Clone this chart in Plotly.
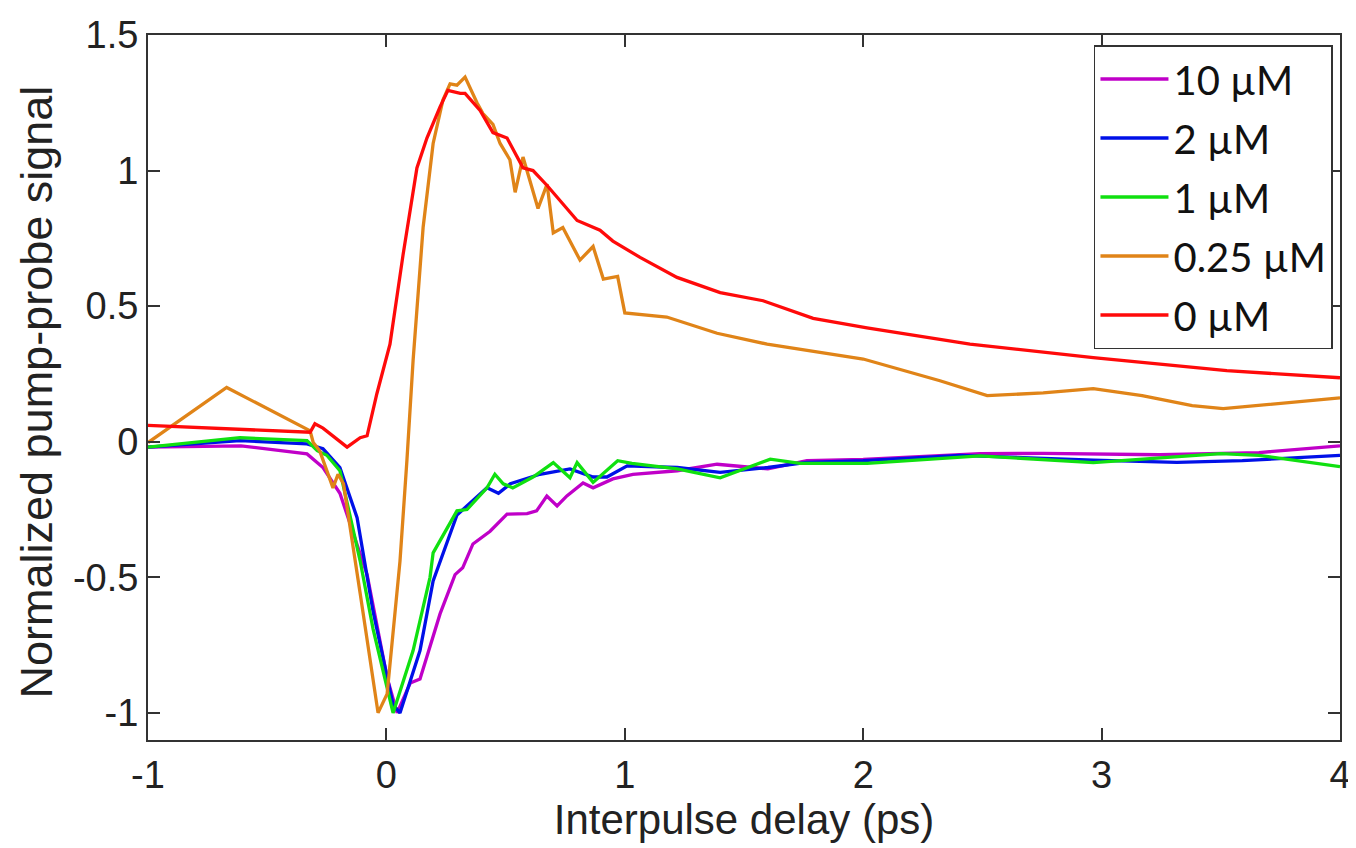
import plotly.graph_objects as go

# ---- data ----
x_10uM = [-1, -0.61, -0.333, -0.266, -0.195, -0.081, 0.003, 0.045, 0.10, 0.141, 0.225, 0.288, 0.32, 0.363,
          0.435, 0.506, 0.59, 0.63, 0.673, 0.716, 0.757, 0.825, 0.867, 0.95, 1.034, 1.22, 1.387, 1.6, 1.764,
          2.0, 2.49, 2.755, 3.245, 3.66, 4.0]
y_10uM = [-0.02, -0.015, -0.045, -0.095, -0.19, -0.49, -0.87, -1.0, -0.89, -0.875, -0.635, -0.49, -0.465, -0.377,
          -0.33, -0.267, -0.265, -0.255, -0.2, -0.237, -0.2, -0.152, -0.17, -0.137, -0.12, -0.107, -0.083, -0.1, -0.07,
          -0.065, -0.044, -0.043, -0.048, -0.04, -0.015]

x_2uM = [-1, -0.614, -0.333, -0.266, -0.195, -0.123, -0.056, 0.028, 0.057, 0.141, 0.196, 0.296, 0.422, 0.47,
         0.52, 0.644, 0.77, 0.867, 0.925, 1.01, 1.22, 1.4, 1.6, 1.764, 2.0, 2.406, 2.965, 3.316, 3.59, 4.0]
y_2uM = [-0.02, 0.004, -0.008, -0.026, -0.095, -0.28, -0.625, -0.97, -1.0, -0.77, -0.513, -0.27, -0.17, -0.19,
         -0.155, -0.12, -0.1, -0.13, -0.13, -0.089, -0.095, -0.113, -0.095, -0.076, -0.07, -0.05, -0.068, -0.076,
         -0.07, -0.05]

x_1uM = [-1, -0.614, -0.333, -0.29, -0.25, -0.195, -0.11, -0.056, 0.028, 0.112, 0.183, 0.196, 0.296, 0.338,
         0.422, 0.455, 0.49, 0.53, 0.615, 0.70, 0.77, 0.80, 0.867, 0.97, 1.03, 1.22, 1.4, 1.61, 1.735, 2.016,
         2.49, 2.965, 3.5, 3.66, 4.0]
y_1uM = [-0.02, 0.015, 0.004, -0.033, -0.05, -0.107, -0.44, -0.69, -1.0, -0.77, -0.5, -0.41, -0.255, -0.25,
         -0.17, -0.12, -0.155, -0.17, -0.13, -0.077, -0.133, -0.077, -0.15, -0.07, -0.08, -0.1, -0.133, -0.064,
         -0.08, -0.08, -0.052, -0.077, -0.044, -0.05, -0.092]

x_025uM = [-1, -0.67, -0.32, -0.307, -0.28, -0.224, -0.203, -0.18, -0.11, -0.035, 0.003, 0.057, 0.086, 0.112,
           0.154, 0.196, 0.237, 0.267, 0.296, 0.33, 0.38, 0.405, 0.447, 0.477, 0.518, 0.54, 0.573, 0.59, 0.636,
           0.674, 0.70, 0.74, 0.812, 0.867, 0.91, 0.97, 1.0, 1.176, 1.387, 1.597, 1.806, 2.0, 2.322, 2.52, 2.755,
           2.965, 3.17, 3.38, 3.51, 3.735, 4.0]
y_025uM = [-0.003, 0.2, 0.04, -0.003, -0.033, -0.17, -0.12, -0.155, -0.56, -1.0, -0.93, -0.44, -0.07, 0.3,
           0.79, 1.1, 1.26, 1.32, 1.315, 1.345, 1.25, 1.21, 1.17, 1.1, 1.04, 0.92, 1.05, 1.0, 0.86,
           0.95, 0.77, 0.79, 0.67, 0.72, 0.6, 0.61, 0.475, 0.46, 0.40, 0.36, 0.33, 0.305, 0.225, 0.17, 0.18,
           0.196, 0.17, 0.133, 0.122, 0.14, 0.162]

x_0uM = [-1, -0.5, -0.32, -0.3, -0.266, -0.165, -0.11, -0.081, -0.04, 0.015, 0.07, 0.128, 0.17, 0.225, 0.258,
         0.31, 0.33, 0.393, 0.447, 0.506, 0.573, 0.615, 0.674, 0.8, 0.896, 0.95, 1.064, 1.219, 1.40, 1.58, 1.79,
         2.016, 2.226, 2.448, 2.965, 3.525, 4.0]
y_0uM = [0.06, 0.04, 0.035, 0.066, 0.05, -0.02, 0.015, 0.022, 0.177, 0.36, 0.69, 1.01, 1.12, 1.235, 1.296,
         1.285, 1.285, 1.222, 1.14, 1.12, 1.01, 1.0, 0.945, 0.816, 0.78, 0.74, 0.68, 0.606, 0.55, 0.52, 0.455,
         0.42, 0.39, 0.36, 0.31, 0.262, 0.236]

series_names = ["10 µM", "2 µM", "1 µM", "0.25 µM", "0 µM"]
series_x = [x_10uM, x_2uM, x_1uM, x_025uM, x_0uM]
series_y = [y_10uM, y_2uM, y_1uM, y_025uM, y_0uM]
series_colors = ["#C000C8", "#0010E8", "#10E010", "#E08418", "#FF0A0A"]

x_ticks = [-1, 0, 1, 2, 3, 4]
y_ticks = [-1, -0.5, 0, 0.5, 1, 1.5]
y_ticklabels = ["-1", "-0.5", "0", "0.5", "1", "1.5"]

fig = go.Figure()
for i, (name, xs, ys, c) in enumerate(zip(series_names, series_x, series_y, series_colors)):
    fig.add_trace(go.Scatter(x=xs, y=ys, mode="lines", name=name,
                             line=dict(color=c, width=3.3), legendgroup=f"g{i}"))

sans = "Liberation Sans, Arial, sans-serif"
tick_font = dict(family=sans, size=38, color="#222")
xtitle_font = dict(family=sans, size=42, color="#222")
ytitle_font = dict(family=sans, size=45, color="#222")
common = dict(showline=True, linecolor="#333", linewidth=2, mirror="ticks", ticks="inside",
              ticklen=12, tickwidth=1.5, tickcolor="#333", showgrid=False, zeroline=False,
              tickfont=tick_font, automargin=False)

fig.update_xaxes(range=[-1, 4], tickvals=x_ticks, ticktext=[str(v) for v in x_ticks],
                 title=dict(text="Interpulse delay (ps)", font=xtitle_font, standoff=2), **common)
fig.update_yaxes(range=[-1.1, 1.5], tickvals=y_ticks, ticktext=y_ticklabels, **common)

# y-axis title placed as a rotated annotation (closer to the edge, as in the reference)
fig.add_annotation(text="Normalized pump-probe signal", xref="paper", yref="paper",
                   x=0, y=0.5, xanchor="center", yanchor="middle", xshift=-112, yshift=-5,
                   textangle=-90, showarrow=False, font=ytitle_font)

fig.update_layout(
    width=1348, height=840,
    margin=dict(l=140, r=16, t=27, b=108),
    paper_bgcolor="white", plot_bgcolor="white",
    showlegend=True,
    legend=dict(x=0.9941, y=0.9858, xanchor="right", yanchor="top",
                bgcolor="white", bordercolor="#333", borderwidth=1.5,
                font=dict(family="Lato, Carlito, sans-serif", size=40, color="#111"),
                tracegroupgap=4, itemwidth=68),
)

fig.write_html("out.html")
